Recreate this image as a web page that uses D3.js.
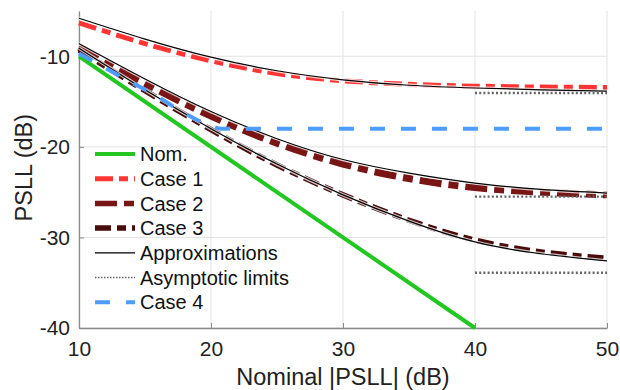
<!DOCTYPE html>
<html>
<head>
<meta charset="utf-8">
<script src="https://cdn.jsdelivr.net/npm/d3@7"></script>
<style>
  body { margin: 0; background: #fff; }
  text { font-family: "Liberation Sans", Arial, sans-serif; }
</style>
</head>
<body>
<div id="chart"></div>
<script>
// nominal |PSLL| sample points (dB)
var xs = [10, 15, 20, 25, 30, 35, 40, 45, 50];

var nomX = [10, 40],
    nomY = [-10, -40];

var case1 = [-6.3, -8.6, -10.5, -11.9, -12.7, -13.1, -13.3, -13.4, -13.45],
    case2 = [-9.0, -13.0, -16.6, -19.6, -21.9, -23.5, -24.5, -25.0, -25.3],
    case3 = [-9.3, -13.8, -18.1, -22.0, -25.3, -28.1, -30.3, -31.6, -32.3];

var approx1 = [-5.8, -8.1, -10.1, -11.6, -12.6, -13.2, -13.5, -13.7, -13.85],
    approx2 = [-8.6, -12.5, -16.1, -19.1, -21.4, -22.9, -24.0, -24.7, -25.1],
    approx3 = [-9.1, -13.7, -18.0, -21.9, -25.3, -28.2, -30.5, -31.8, -32.6];

var case4X = [10, 12, 14, 16, 18, 20, 20.8, 30, 40, 50],
    case4Y = [-9.7, -11.3, -12.9, -14.5, -16.3, -17.7, -18, -18, -18, -18];

var asymX = [40, 50],
    asymY = [-14.05, -25.5, -33.9];

var xTicks = [10, 20, 30, 40, 50],
    yTicks = [-40, -30, -20, -10];

var legendLabels = ["Nom.", "Case 1", "Case 2", "Case 3", "Approximations", "Asymptotic limits", "Case 4"];

var svg = d3.select("#chart").append("svg").attr("width", 620).attr("height", 390),
    margin = {top: 11, right: 13, bottom: 62, left: 79},
    width = 620 - margin.left - margin.right,
    height = 390 - margin.top - margin.bottom,
    g = svg.append("g").attr("transform", "translate(" + margin.left + "," + margin.top + ")");

var x = d3.scaleLinear().domain([10, 50]).range([0, width]);
var y = d3.scaleLinear().domain([-40, -5]).range([height, 0]);

// grid
g.append("g").selectAll("line").data(xTicks).enter().append("line")
    .attr("x1", function(d) { return x(d); }).attr("x2", function(d) { return x(d); })
    .attr("y1", 0).attr("y2", height)
    .attr("stroke", "#e3e3e3").attr("stroke-width", 1);
g.append("g").selectAll("line").data(yTicks).enter().append("line")
    .attr("x1", 0).attr("x2", width)
    .attr("y1", function(d) { return y(d); }).attr("y2", function(d) { return y(d); })
    .attr("stroke", "#e3e3e3").attr("stroke-width", 1);

// axes
var fmt = function(d) { return String(d); };
var xAxis = g.append("g")
    .attr("transform", "translate(0," + height + ")")
    .call(d3.axisBottom(x).tickValues(xTicks).tickFormat(fmt).tickSizeInner(-5).tickSizeOuter(0).tickPadding(13));
var yAxis = g.append("g")
    .call(d3.axisLeft(y).tickValues(yTicks).tickFormat(fmt).tickSizeInner(-5).tickSizeOuter(0).tickPadding(9));
[xAxis, yAxis].forEach(function(a) {
  a.select(".domain").attr("stroke", "#8a8a8a").attr("stroke-width", 1.3);
  a.selectAll(".tick line").attr("stroke", "#8a8a8a");
  a.selectAll("text").attr("font-size", 21).attr("fill", "#222")
    .attr("font-family", "'Liberation Sans', Arial, sans-serif");
});

svg.append("text")
    .attr("x", margin.left + x(30)).attr("y", 385)
    .attr("text-anchor", "middle").attr("font-size", 23.5).attr("fill", "#222")
    .text("Nominal |PSLL| (dB)");
svg.append("text")
    .attr("transform", "translate(32," + (margin.top + y(-22.3)) + ") rotate(-90)")
    .attr("text-anchor", "middle").attr("font-size", 23.5).attr("fill", "#222")
    .text("PSLL (dB)");

var line = d3.line().curve(d3.curveNatural)
    .x(function(d) { return x(d[0]); })
    .y(function(d) { return y(d[1]); });
var kneeLine = d3.line().curve(d3.curveMonotoneX)
    .x(function(d) { return x(d[0]); })
    .y(function(d) { return y(d[1]); });

function pts(xv, yv) { return xv.map(function(v, i) { return [v, yv[i]]; }); }

var styles = [
  {color: "#22c722", width: 4, dash: null},
  {color: "#ff3535", width: 5, dash: "18,6,9,6"},
  {color: "#7a1515", width: 7, dash: "22,7,10,7"},
  {color: "#4a0b0b", width: 5.5, dash: "16,6,9,6"},
  {color: "#000", width: 1.2, dash: null},
  {color: "#666", width: 2.4, dash: "2,2.2"},
  {color: "#4d9dff", width: 4, dash: "15,16"}
];

function drawPath(data, s, gen) {
  var p = g.append("path").datum(data).attr("d", gen || line)
      .attr("fill", "none").attr("stroke", s.color).attr("stroke-width", s.width);
  if (s.dash) p.attr("stroke-dasharray", s.dash);
  return p;
}

drawPath(pts(nomX, nomY), styles[0]);
drawPath(pts(xs, case1), styles[1]);
drawPath(pts(xs, case2), styles[2]);
drawPath(pts(xs, case3), styles[3]);

[approx1, approx2, approx3].forEach(function(a) {
  g.append("path").datum(pts(xs, a)).attr("d", line)
      .attr("fill", "none").attr("stroke", "#fff").attr("stroke-opacity", 0.75).attr("stroke-width", 3.5);
  drawPath(pts(xs, a), styles[4]);
});

asymY.forEach(function(v) {
  drawPath(pts(asymX, [v, v]), styles[5]);
});

drawPath(pts(case4X, case4Y), styles[6], kneeLine);

// legend
var legend = svg.append("g");
legendLabels.forEach(function(label, i) {
  var yy = 154 + i * 24.7, s = styles[i];
  var l = legend.append("line").attr("x1", 95).attr("x2", 135).attr("y1", yy).attr("y2", yy)
      .attr("stroke", s.color).attr("stroke-width", Math.min(s.width, 5.5));
  if (i === 5) l.attr("stroke-width", 1.6).attr("stroke-dasharray", "1.5,1.5");
  else if (s.dash) l.attr("stroke-dasharray", s.dash);
  legend.append("text").attr("x", 140).attr("y", yy).attr("dy", "0.36em")
      .attr("font-size", 20).attr("fill", "#111").text(label);
});
</script>
</body>
</html>
